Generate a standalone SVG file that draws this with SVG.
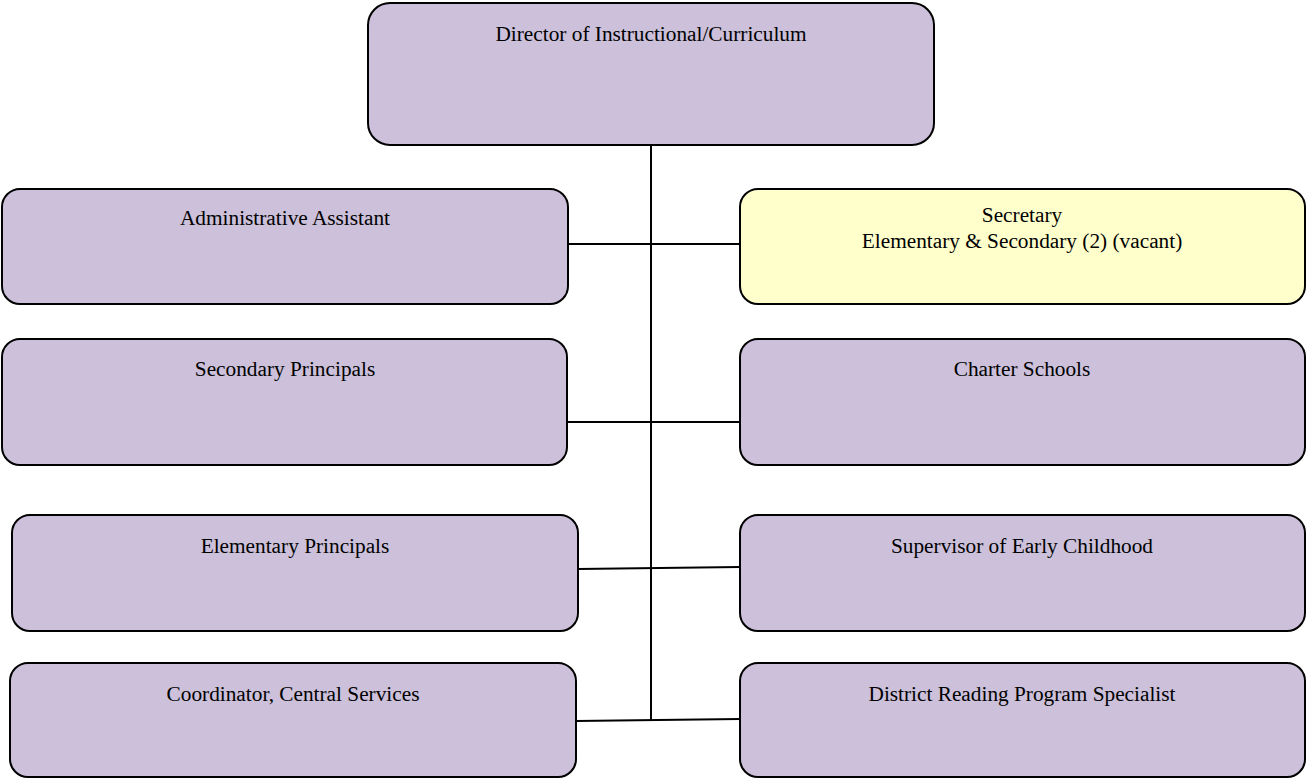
<svg xmlns="http://www.w3.org/2000/svg" width="1306" height="781" viewBox="0 0 1306 781">
<style>
.n{fill:#CCC0DA;stroke:#000;stroke-width:2}
.y{fill:#FFFFCC;stroke:#000;stroke-width:2}
.t{font-family:"Liberation Serif","Times New Roman",serif;font-size:21.3px;fill:#000;text-anchor:middle}
.c{stroke:#000;stroke-width:2;fill:none}
</style>
<rect width="1306" height="781" fill="#fff"/>
<g id="connectors">
<line class="c" x1="651" y1="145" x2="651" y2="720"/>
<line class="c" x1="568" y1="244" x2="740" y2="244"/>
<line class="c" x1="567" y1="422" x2="740" y2="422"/>
<line class="c" x1="578" y1="569" x2="740" y2="567"/>
<line class="c" x1="576" y1="721" x2="740" y2="719"/>
</g>
<g id="director"><rect class="n" x="368" y="3" width="566" height="142" rx="22"/><text class="t" x="651" y="41">Director of Instructional/Curriculum</text></g>
<g id="admin"><rect class="n" x="2" y="189" width="566" height="115" rx="18"/><text class="t" x="285" y="225">Administrative Assistant</text></g>
<g id="secretary"><rect class="y" x="740" y="189" width="565" height="115" rx="18"/><text class="t" x="1022" y="222">Secretary</text><text class="t" x="1022" y="248">Elementary &amp; Secondary (2) (vacant)</text></g>
<g id="secondary"><rect class="n" x="2" y="339" width="565" height="126" rx="18"/><text class="t" x="285" y="376">Secondary Principals</text></g>
<g id="charter"><rect class="n" x="740" y="339" width="565" height="126" rx="18"/><text class="t" x="1022" y="376">Charter Schools</text></g>
<g id="elementary"><rect class="n" x="12" y="515" width="566" height="116" rx="18"/><text class="t" x="295" y="553">Elementary Principals</text></g>
<g id="supervisor"><rect class="n" x="740" y="515" width="565" height="116" rx="18"/><text class="t" x="1022" y="553">Supervisor of Early Childhood</text></g>
<g id="coordinator"><rect class="n" x="10" y="663" width="566" height="114" rx="18"/><text class="t" x="293" y="701">Coordinator, Central Services</text></g>
<g id="district"><rect class="n" x="740" y="663" width="565" height="114" rx="18"/><text class="t" x="1022" y="701">District Reading Program Specialist</text></g>
</svg>
